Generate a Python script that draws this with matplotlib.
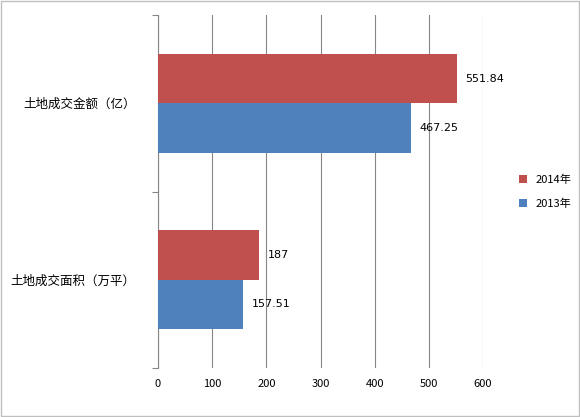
import matplotlib.pyplot as plt
import numpy as np

plt.rcParams['font.family'] = ['Noto Sans CJK SC', 'DejaVu Sans']

categories = ['土地成交面积（万平）', '土地成交金额（亿）']
values_2013 = [157.51, 467.25]
values_2014 = [187, 551.84]
labels_2013 = ['157.51', '467.25']
labels_2014 = ['187', '551.84']

fig = plt.figure(figsize=(5.8, 4.17), dpi=100)
ax = fig.add_axes([158/580, 1-368/417, (483-158)/580, (368-15)/417])

y = np.arange(len(categories))
h = 0.28
red = '#C0504D'
blue = '#4F81BD'
b14 = ax.barh(y + h/2, values_2014, h, color=red, label='2014年', zorder=3)
b13 = ax.barh(y - h/2, values_2013, h, color=blue, label='2013年', zorder=3)

for bars, labs in ((b14, labels_2014), (b13, labels_2013)):
    for bar, lab in zip(bars, labs):
        ax.text(bar.get_width() + 15, bar.get_y() + bar.get_height()/2, lab,
                va='center', ha='left', fontsize=8, family='DejaVu Sans')

ax.set_xlim(0, 600)
ax.set_ylim(-0.5, 1.5)
ax.set_xticks(range(0, 601, 100))
ax.tick_params(axis='x', length=0, labelsize=8, pad=8)
ax.set_yticks([-0.5, 0.5, 1.5], minor=False)
ax.set_yticklabels([])
ax.set_yticks(y, minor=True)
ax.set_yticklabels(categories, minor=True, fontsize=9)
ax.tick_params(axis='y', which='minor', length=0, pad=16)
ax.tick_params(axis='y', which='major', length=4, color='#868686')
ax.grid(axis='x', color='#868686', linewidth=0.8, zorder=0)
for s in ['top', 'right', 'bottom']:
    ax.spines[s].set_visible(False)
ax.spines['left'].set_color('#868686')

ax.legend(loc='center left', bbox_to_anchor=(1.08, 0.5), frameon=False,
          fontsize=8, handlelength=0.7, handleheight=0.7, labelspacing=1.2)

fig.patches.append(plt.Rectangle((0.002, 0.002), 0.996, 0.996, transform=fig.transFigure,
                                 fill=False, edgecolor='#BFBFBF', linewidth=1))

fig.savefig('out.png', dpi=100)
